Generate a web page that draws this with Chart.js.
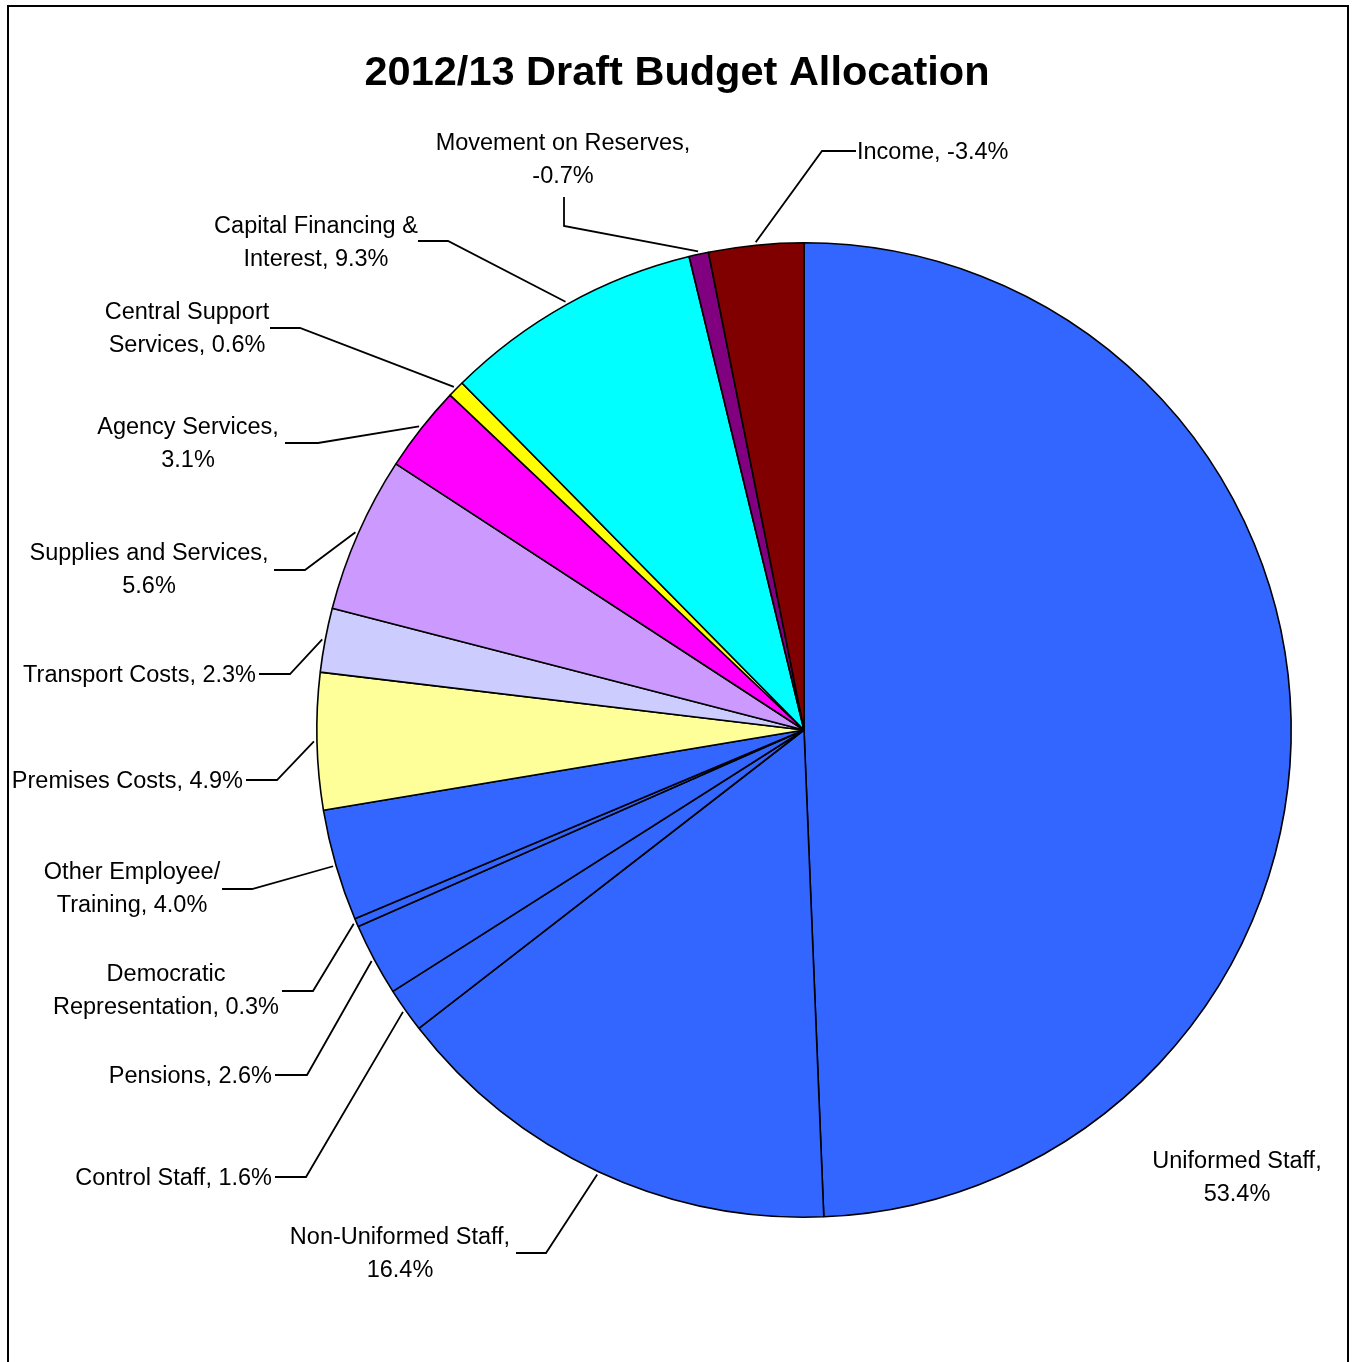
<!DOCTYPE html>
<html>
<head>
<meta charset="utf-8">
<title>2012/13 Draft Budget Allocation</title>
<script src="https://cdn.jsdelivr.net/npm/chart.js@4.4.1/dist/chart.umd.min.js"></script>
<style>
  html, body { margin: 0; padding: 0; background: #fff; }
  #wrap { position: relative; width: 1354px; height: 1362px; }
</style>
</head>
<body>
<div id="wrap"><canvas id="budgetChart"></canvas></div>
<script>
// budget lines, clockwise from 12 o'clock
var categories = ['Uniformed Staff', 'Non-Uniformed Staff', 'Control Staff', 'Pensions',
  'Democratic Representation', 'Other Employee/ Training', 'Premises Costs', 'Transport Costs',
  'Supplies and Services', 'Agency Services', 'Central Support Services',
  'Capital Financing & Interest', 'Movement on Reserves', 'Income'];

// share of net budget, %
var shares = [53.4, 16.4, 1.6, 2.6, 0.3, 4.0, 4.9, 2.3, 5.6, 3.1, 0.6, 9.3, -0.7, -3.4];

var sliceColours = ['#3366FF', '#3366FF', '#3366FF', '#3366FF', '#3366FF', '#3366FF',
  '#FFFF99', '#CCCCFF', '#CC99FF', '#FF00FF', '#FFFF00', '#00FFFF', '#800080', '#800000'];

// where each data label sits: text anchor, words on first line, leader elbow
var labelLayout = [
  { x: 1237, y: 1160, align: 'center', words: 2, leader: null },
  { x: 400, y: 1236, align: 'center', words: 2, leader: [[516, 1253], [546, 1253]] },
  { x: 272, y: 1177, align: 'right', words: 0, leader: [[275, 1177], [306, 1177]] },
  { x: 272, y: 1075, align: 'right', words: 0, leader: [[275, 1075], [307, 1075]] },
  { x: 166, y: 973, align: 'center', words: 1, leader: [[282, 991], [313, 991]] },
  { x: 132, y: 871, align: 'center', words: 2, leader: [[222, 889], [252, 889]] },
  { x: 243, y: 780, align: 'right', words: 0, leader: [[246, 780], [277, 780]] },
  { x: 256, y: 674, align: 'right', words: 0, leader: [[259, 674], [290, 674]] },
  { x: 149, y: 552, align: 'center', words: 3, leader: [[274, 570], [305, 570]] },
  { x: 188, y: 426, align: 'center', words: 2, leader: [[285, 443], [318, 443]] },
  { x: 187, y: 311, align: 'center', words: 2, leader: [[270, 328], [300, 328]] },
  { x: 316, y: 225, align: 'center', words: 3, leader: [[418, 241], [448, 241]] },
  { x: 563, y: 142, align: 'center', words: 3, leader: [[564, 197], [564, 226]] },
  { x: 857, y: 151, align: 'left', words: 0, leader: [[856, 151], [822, 151]] }
];

var labelFont = '23.5px "Liberation Sans", Arial, sans-serif';
var lineGap = 33;

function labelLines(i) {
  var text = categories[i] + ', ' + shares[i].toFixed(1) + '%';
  var n = labelLayout[i].words;
  if (!n) return [text];
  var parts = text.split(' ');
  return [parts.slice(0, n).join(' '), parts.slice(n).join(' ')];
}

// frame, title, data labels and leader lines
var decorations = {
  id: 'decorations',
  beforeDraw: function (chart) {
    var ctx = chart.ctx;
    ctx.save();
    ctx.fillStyle = '#fff';
    ctx.fillRect(0, 0, chart.width, chart.height);
    ctx.restore();
  },
  afterDraw: function (chart) {
    var ctx = chart.ctx;
    var meta = chart.getDatasetMeta(0);
    ctx.save();

    ctx.strokeStyle = '#000';
    ctx.lineWidth = 2;
    ctx.strokeRect(8, 6, 1340, 1400);

    ctx.fillStyle = '#000';
    ctx.font = 'bold 41.5px "Liberation Sans", Arial, sans-serif';
    ctx.textAlign = 'center';
    ctx.textBaseline = 'middle';
    ctx.fillText('2012/13 Draft Budget Allocation', 677, 74);

    ctx.font = labelFont;
    ctx.lineWidth = 1.8;
    meta.data.forEach(function (arc, i) {
      var lay = labelLayout[i];
      var lines = labelLines(i);
      ctx.textAlign = lay.align;
      lines.forEach(function (s, k) {
        ctx.fillText(s, lay.x, lay.y + 2 + k * lineGap);
      });
      if (!lay.leader) return;
      var p = arc.getProps(['x', 'y', 'startAngle', 'endAngle', 'outerRadius'], true);
      var mid = (p.startAngle + p.endAngle) / 2;
      var r = p.outerRadius + 3;
      ctx.beginPath();
      ctx.moveTo(lay.leader[0][0], lay.leader[0][1]);
      ctx.lineTo(lay.leader[1][0], lay.leader[1][1]);
      ctx.lineTo(p.x + Math.cos(mid) * r, p.y + Math.sin(mid) * r);
      ctx.stroke();
    });
    ctx.restore();
  }
};

var ctx = document.getElementById('budgetChart').getContext('2d');
var chart = new Chart(ctx, {
  type: 'pie',
  data: {
    labels: categories,
    datasets: [{
      data: shares.map(Math.abs),
      backgroundColor: sliceColours,
      borderColor: '#000',
      borderWidth: 1.6
    }]
  },
  options: {
    responsive: true,
    maintainAspectRatio: false,
    animation: false,
    layout: { padding: { left: 316, right: 62, top: 242, bottom: 144 } },
    plugins: {
      legend: { display: false },
      tooltip: { enabled: false },
      title: { display: false }
    }
  },
  plugins: [decorations]
});
</script>
</body>
</html>
